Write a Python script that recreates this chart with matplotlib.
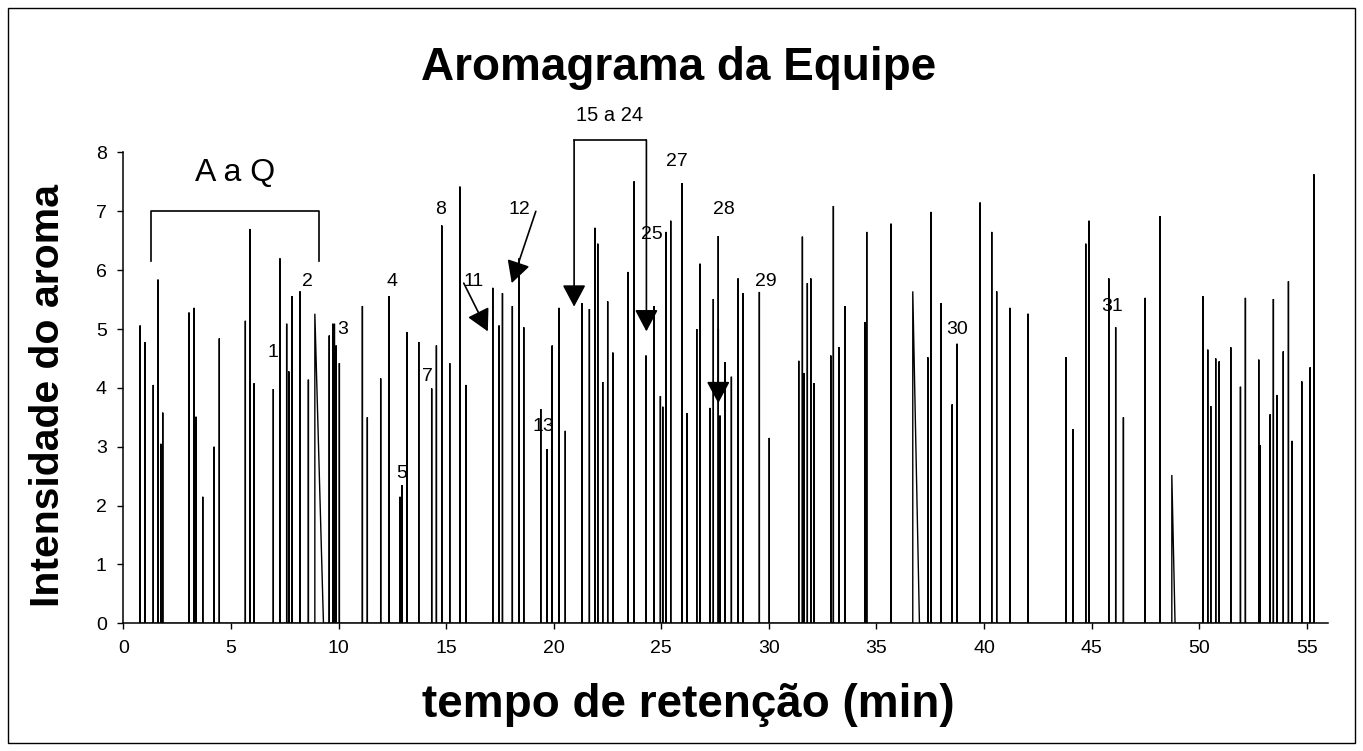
import matplotlib
matplotlib.use("Agg")
import matplotlib.pyplot as plt
from matplotlib.patches import Rectangle

plt.rcParams['font.family'] = ['Liberation Sans', 'DejaVu Sans']

# tempos de retencao (min) e intensidade de cada pico
rt = [0.78, 1.00, 1.39, 1.61, 1.74, 1.83, 3.05, 3.29, 3.38, 3.69, 4.22, 4.46, 5.67, 5.89, 6.08,
      6.97, 7.28, 7.59, 7.69, 7.83, 8.21, 8.60, 8.90, 9.57, 9.73, 9.81, 9.89, 10.04,
      11.11, 11.34, 11.96, 12.35, 12.86, 12.95, 13.19, 13.73, 14.33, 14.55,
      14.80, 15.17, 15.64, 15.93, 17.17, 17.46, 17.62, 18.08, 18.39, 18.61,
      19.40, 19.69, 19.93, 20.24, 20.54, 21.31, 21.66,
      21.92, 22.05, 22.28, 22.51, 22.75, 23.46, 23.74, 24.29, 24.67, 24.96,
      25.07, 25.22, 25.44, 25.97, 26.20, 26.65, 26.80, 27.27, 27.42, 27.65,
      27.73, 27.97, 28.26, 28.57, 28.80, 29.56, 30.02,
      31.39, 31.56, 31.64, 31.79, 31.95, 32.10, 32.88, 33.00, 33.26, 33.54,
      34.47, 34.55, 35.68, 36.69, 37.39, 37.53, 38.00, 38.52, 38.75, 39.82,
      40.36, 40.59, 41.20, 42.05,
      43.81, 44.13, 44.73, 44.88, 45.80, 46.12, 46.48, 47.49, 48.18, 48.73,
      50.17, 50.40, 50.54, 50.77, 50.93, 51.47, 51.92, 52.15, 52.77, 52.84,
      53.30, 53.45, 53.61, 53.91, 54.15, 54.32, 54.77, 55.16, 55.33]
intens = [5.06, 4.78, 4.05, 5.84, 3.05, 3.58, 5.28, 5.36, 3.51, 2.15, 3.00, 4.84, 5.14, 6.70, 4.08,
          3.98, 6.20, 5.09, 4.28, 5.56, 5.64, 4.14, 5.26, 4.89, 5.09, 5.09, 4.72, 4.42,
          5.39, 3.50, 4.16, 5.56, 2.15, 2.35, 4.95, 4.78, 3.99, 4.72,
          6.76, 4.42, 7.42, 4.05, 5.70, 5.06, 5.61, 5.39, 6.20, 5.03,
          3.64, 2.96, 4.72, 5.36, 3.27, 5.44, 5.34,
          6.72, 6.45, 4.10, 5.47, 4.60, 5.97, 7.51, 4.55, 5.39, 3.86,
          3.68, 6.65, 6.84, 7.48, 3.57, 5.00, 6.11, 3.66, 5.51, 6.58,
          3.53, 4.44, 4.19, 5.86, 5.61, 5.63, 3.15,
          4.46, 6.57, 4.25, 5.78, 5.86, 4.08, 4.55, 7.09, 4.69, 5.39,
          5.12, 6.65, 6.79, 5.64, 4.52, 6.99, 5.44, 3.72, 4.75, 7.15,
          6.65, 5.64, 5.36, 5.26,
          4.52, 3.30, 6.45, 6.84, 5.86, 5.03, 3.50, 5.53, 6.92, 2.52,
          5.56, 4.65, 3.69, 4.50, 4.45, 4.69, 4.02, 5.53, 4.48, 3.03,
          3.55, 5.51, 3.88, 4.62, 5.81, 3.10, 4.11, 4.35, 7.63]
# picos que voltam a zero mais tarde (linha inclinada)
fall = {8.90: 9.30, 36.69: 37.00, 48.73: 48.88}

# rotulos numericos dos picos
lbl_text = ['1', '2', '3', '4', '5', '7', '8', '11', '12', '13', '25', '27', '28', '29', '30', '31']
lbl_x = [6.93, 8.54, 10.2, 12.49, 12.95, 14.12, 14.72, 16.3, 18.39, 19.5, 24.57, 25.73, 27.93, 29.84, 38.76, 45.95]
lbl_y = [4.6, 5.8, 4.99, 5.8, 2.54, 4.19, 7.03, 5.8, 7.03, 3.35, 6.6, 7.84, 7.03, 5.8, 4.99, 5.38]

xs, ys = [], []
for t, h in zip(rt, intens):
    xs += [t, t, fall.get(t, t)]
    ys += [0, h, 0]

fig = plt.figure(figsize=(13.63, 7.51), dpi=100)
ax = fig.add_axes([0.0905, 0.170, 0.884, 0.627])
ax.plot(xs, ys, color='black', lw=1.0, solid_joinstyle='miter')

ax.set_xlim(0, 56)
ax.set_ylim(0, 8)
ax.set_xticks(range(0, 56, 5))
ax.set_yticks(range(0, 9))
for s in ['top', 'right']:
    ax.spines[s].set_visible(False)
for s in ['left', 'bottom']:
    ax.spines[s].set_linewidth(1.1)
ax.tick_params(direction='out', length=4, width=1, labelsize=14, pad=8)

# chave "A a Q"
ax.plot([1.27, 1.27, 9.11, 9.11], [6.16, 7.0, 7.0, 6.16], color='black', lw=1.2)
ax.text(5.2, 7.65, 'A a Q', fontsize=23, ha='center', va='center')

# chave "15 a 24"
ax.plot([20.95, 24.31], [8.21, 8.21], color='black', lw=1.2, clip_on=False)
ax.text(22.6, 8.63, '15 a 24', fontsize=14.5, ha='center', va='center', clip_on=False)

arrow = dict(arrowstyle='-|>,head_length=0.75,head_width=0.4', color='black', lw=1.2,
             shrinkA=0, shrinkB=0, mutation_scale=18)
ax.annotate('', xy=(20.95, 5.38), xytext=(20.95, 8.21), arrowprops=arrow, annotation_clip=False)
ax.annotate('', xy=(24.31, 4.96), xytext=(24.31, 8.21), arrowprops=arrow, annotation_clip=False)
ax.annotate('', xy=(16.94, 4.96), xytext=(15.82, 5.78), arrowprops=arrow)
ax.annotate('', xy=(18.05, 5.78), xytext=(19.17, 7.0), arrowprops=arrow)
ax.annotate('', xy=(27.65, 3.74), xytext=(27.65, 5.0), arrowprops=arrow)

for s, x, y in zip(lbl_text, lbl_x, lbl_y):
    ax.text(x, y, s, fontsize=14, ha='center', va='center')

fig.text(0.498, 0.909, 'Aromagrama da Equipe', fontsize=33, fontweight='bold', ha='center', va='center')
fig.text(0.505, 0.061, 'tempo de retenção (min)', fontsize=33, fontweight='bold', ha='center', va='center')
fig.text(0.035, 0.474, 'Intensidade do aroma', fontsize=29.5, fontweight='bold', ha='center', va='center',
         rotation=90)

fig.patches.append(Rectangle((0.006, 0.011), 0.988, 0.979, transform=fig.transFigure,
                             fill=False, edgecolor='black', lw=1))

fig.savefig('out.png', dpi=100)
